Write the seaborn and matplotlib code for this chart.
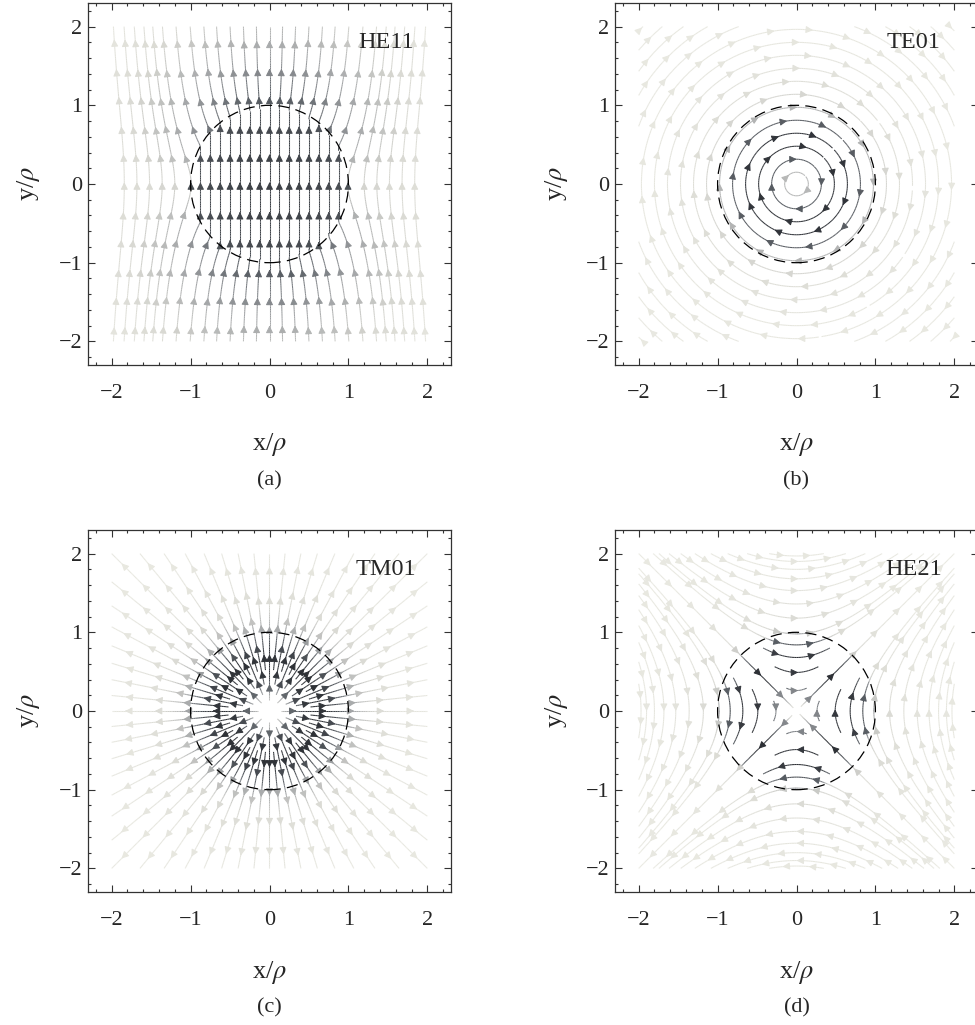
import numpy as np
import matplotlib
matplotlib.use("Agg")
import matplotlib.pyplot as plt
import seaborn as sns
from matplotlib.colors import Normalize, LogNorm
from matplotlib.patches import Circle, FancyArrowPatch
from matplotlib.ticker import MultipleLocator

# panels
modes = ["HE11", "TE01", "TM01", "HE21"]
tags = ["(a)", "(b)", "(c)", "(d)"]
ticks = [-2, -1, 0, 1, 2]

# mode parameters (core u, cladding w, outside/inside ratio at r=1)
u_core = [1.0, 3.3, 3.0, 3.0]
w_clad = [0.8, 2.0, 2.0, 2.0]
jump = [1.0, 1.0, 1.0, 0.6]
he11_fringe = 0.15   # K2 admixture in the HE11 cladding amplitude
he11_bend = 0.47     # how strongly HE11 lines are pulled into the core

# streamline seeds (where lines cross the axes)
he11_core_x = [0.0, 0.125, 0.25, 0.375, 0.5, 0.625, 0.75, 0.875, 0.995]
he11_clad_x = [1.2, 1.36, 1.52, 1.68, 1.84]
te01_radii = [0.15, 0.315, 0.48, 0.645, 0.81, 0.975, 1.14, 1.305, 1.47,
              1.635, 1.8, 1.965, 2.13, 2.295, 2.46, 2.625, 2.79]
tm01_count = 64
tm01_start = [0.12, 0.2, 0.32, 0.5]
he21_vertex = [0.26, 0.49, 0.68, 0.84, 0.98, 1.18, 1.36, 1.53, 1.68, 1.8, 1.9, 1.97]
he21_cut = [0.3, 0.6, 0.9]

sns.set_theme(style="white")
plt.rcParams["font.family"] = ["Liberation Serif", "DejaVu Serif"]
plt.rcParams["mathtext.fontset"] = "stix"

cmap = sns.blend_palette(["#e9e9e1", "#d9d9d3", "#a4a6a8", "#5c6167", "#2c2f34"], as_cmap=True)

n = 121
xs = np.linspace(-2, 2, n)
X, Y = np.meshgrid(xs, xs)
R = np.hypot(X, Y)
PHI = np.arctan2(Y, X)
inside = R <= 1
Ro = np.maximum(R, 1.0)
tj = np.linspace(0, np.pi, 181)
tk = np.linspace(0, 7, 281)


def besj(m, x):
    x = np.asarray(x, dtype=float)
    return np.trapezoid(np.cos(m * tj - x[..., None] * np.sin(tj)), tj, axis=-1) / np.pi


def besk(m, x):
    x = np.asarray(x, dtype=float)
    return np.trapezoid(np.exp(-x[..., None] * np.cosh(tk)) * np.cosh(m * tk), tk, axis=-1)


def profile(u, w, c):
    pin = besj(1, u * R) / besj(1, u)
    pout = c * besk(1, w * Ro) / besk(1, w)
    return np.where(inside, pin, pout)


def field(i):
    u, w, c = u_core[i], w_clad[i], jump[i]
    if modes[i] == "HE11":
        s = he11_fringe
        k0 = besk(0, w * Ro)
        k2 = besk(2, w * Ro)
        k0b = besk(0, w)
        a = 1 + s * besk(2, w) / k0b
        mx = np.where(inside, 0.0, s * k2 * np.sin(2 * PHI) / k0b)
        my = np.where(inside, a * besj(0, u * R) / besj(0, u),
                      (k0 - s * k2 * np.cos(2 * PHI)) / k0b)
        M = np.hypot(mx, my)
        kb = he11_bend
        R4 = Ro ** 4
        dx = np.where(inside, 0.0, 2 * kb * X * Y / R4)
        dy = np.where(inside, 1.0, 1 - kb * (X ** 2 - Y ** 2) / R4)
        dn = np.hypot(dx, dy)
        return dx / dn * M, dy / dn * M, M
    P = profile(u, w, c)
    if modes[i] == "TE01":
        U, V = P * np.sin(PHI), -P * np.cos(PHI)
    elif modes[i] == "TM01":
        U, V = P * np.cos(PHI), P * np.sin(PHI)
    else:
        U, V = P * np.sin(PHI), P * np.cos(PHI)
    return U, V, np.hypot(U, V)


def seeds(mode):
    out = []
    if mode == "HE11":
        xs0 = sorted(set([-x for x in he11_core_x + he11_clad_x] + he11_core_x + he11_clad_x))
        for x in xs0:
            out.append(((x, 0.0), "both", 4.0, False))
    elif mode == "TE01":
        for r in te01_radii:
            if r < 2:
                out.append(((r / np.sqrt(2), r / np.sqrt(2)), "both", 4.0, True))
            else:
                for sx, sy in [(1, 1), (-1, 1), (-1, -1), (1, -1)]:
                    out.append(((sx * r / np.sqrt(2), sy * r / np.sqrt(2)), "both", 4.0, True))
    elif mode == "TM01":
        for j in range(tm01_count):
            th = 2 * np.pi * j / tm01_count
            if j % 8 == 0:
                r0 = tm01_start[0]
            elif j % 4 == 0:
                r0 = tm01_start[1]
            elif j % 2 == 0:
                r0 = tm01_start[2]
            else:
                r0 = tm01_start[3]
            out.append(((r0 * np.cos(th), r0 * np.sin(th)), "forward", 4.0, False))
    else:
        for idx, v in enumerate(he21_vertex):
            L = he21_cut[idx] / 4 if idx < len(he21_cut) else 4.0
            for p in [(0, v), (0, -v), (v, 0), (-v, 0)]:
                out.append((p, "both", L, False))
        out += [((0.04, 0.04), "forward", 4.0, False), ((-0.04, -0.04), "forward", 4.0, False),
                ((0.04, -0.04), "backward", 4.0, False), ((-0.04, 0.04), "backward", 4.0, False)]
    return out


spacing = {"HE11": 0.36, "TE01": 0.5, "TM01": 0.36, "HE21": 0.42}

fig = plt.figure(figsize=(9.75, 10.25), dpi=100)
boxes = [(88, 3), (615, 3), (88, 530), (615, 530)]

for i, mode in enumerate(modes):
    left, top = boxes[i]
    ax = fig.add_axes([left / 975, 1 - (top + 362) / 1025, 363 / 975, 362 / 1025])
    U, V, M = field(i)
    if mode == "HE11":
        norm = LogNorm(vmin=M.max() * 0.06, vmax=M.max() * 1.3)
    else:
        norm = Normalize(vmin=0, vmax=M.max())
    for pt, direction, L, broken in seeds(mode):
        npatch = len(ax.patches)
        sp = ax.streamplot(xs, xs, U, V, color=M, cmap=cmap, norm=norm, linewidth=0.75,
                           start_points=[pt], integration_direction=direction, maxlength=L,
                           minlength=0.005, density=6, broken_streamlines=broken)
        for p in ax.patches[npatch:]:
            p.remove()
        segs = sp.lines.get_segments()
        if len(segs) == 0:
            continue
        cols = sp.lines.to_rgba(sp.lines.get_array())
        a = np.array([sg[0] for sg in segs])
        b = np.array([sg[-1] for sg in segs])
        cum = np.cumsum(np.hypot(*(b - a).T))
        na = max(1, int(round(cum[-1] / spacing[mode])))
        for k in range(na):
            j = min(np.searchsorted(cum, cum[-1] * (k + 0.5) / na), len(segs) - 1)
            ax.add_patch(FancyArrowPatch(a[j], b[j], arrowstyle="-|>", mutation_scale=10.5,
                                         lw=0.75, color=cols[j], shrinkA=0, shrinkB=0, zorder=2))

    ax.add_patch(Circle((0, 0), 1, fill=False, ec="black", lw=0.9, ls=(0, (9, 5)), zorder=3))
    ax.text(1.48, 1.8, mode, fontsize=17.5, ha="center", va="center")
    ax.set_xlim(-2.3, 2.3)
    ax.set_ylim(-2.3, 2.3)
    ax.set_xticks(ticks)
    ax.set_yticks(ticks)
    ax.xaxis.set_minor_locator(MultipleLocator(0.2))
    ax.yaxis.set_minor_locator(MultipleLocator(0.2))
    ax.tick_params(which="both", direction="in", top=True, right=True, bottom=True, left=True,
                   color="#333333", width=0.8, labelsize=16)
    ax.tick_params(which="major", length=5)
    ax.tick_params(which="minor", length=2.5)
    ax.tick_params(axis="x", pad=14)
    ax.tick_params(axis="y", pad=4)
    for spn in ax.spines.values():
        spn.set_color("#333333")
        spn.set_linewidth(0.9)
    cx = (left + 181.5) / 975
    fig.text(cx, 1 - (top + 442) / 1025, r"x/$\rho$", fontsize=19, ha="center", va="center")
    fig.text(cx, 1 - (top + 478) / 1025, tags[i], fontsize=16, ha="center", va="center")
    fig.text((left - 59) / 975, 1 - (top + 181) / 1025, r"y/$\rho$", fontsize=19,
             ha="center", va="center", rotation=90)

fig.savefig("out.png", dpi=100)
